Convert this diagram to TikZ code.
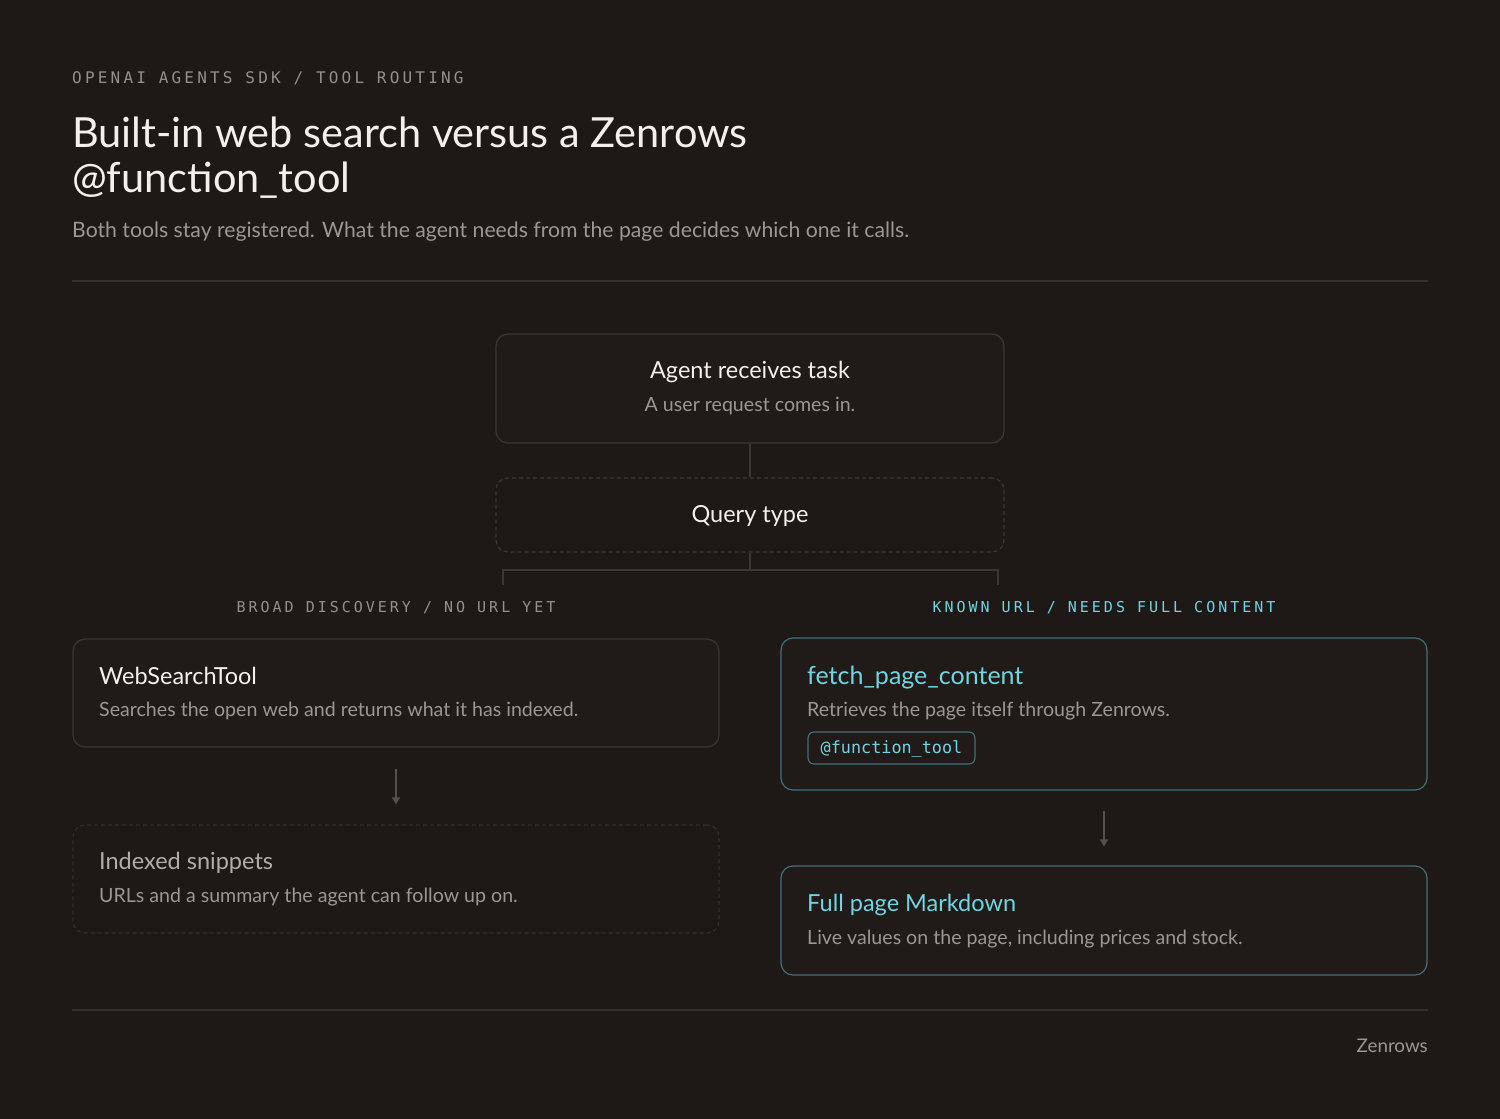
\documentclass[tikz,border=0pt]{standalone}
\usepackage{fontspec}
\setmainfont{Lato}
\newfontfamily\monofont{DejaVu Sans Mono}[LetterSpace=20]
\newfontfamily\codefont{DejaVu Sans Mono}
\usetikzlibrary{arrows.meta}
\definecolor{bgcol}{HTML}{1E1816}
\definecolor{cardfill}{HTML}{201A18}
\definecolor{inktext}{HTML}{F4EFEC}
\definecolor{mutedtext}{HTML}{9C9793}
\definecolor{dimtext}{HTML}{B3ADA9}
\definecolor{labeltext}{HTML}{959090}
\definecolor{linecol}{HTML}{3B3634}
\definecolor{rulecol}{HTML}{33302E}
\definecolor{tealtext}{HTML}{72D4E0}
\definecolor{tealline}{HTML}{41707A}
\tikzset{
  card/.style={draw=linecol, line width=1.2pt, rounded corners=12pt, fill=cardfill},
  tealcard/.style={card, draw=tealline},
  ghost/.style={card, dashed, dash pattern=on 4pt off 3pt, fill=none},
  boxtitle/.style={inner sep=0pt, font=\fontsize{23.5}{27}\selectfont, text=inktext},
  boxsub/.style={inner sep=0pt, font=\fontsize{19.6}{23}\selectfont, text=mutedtext},
  caps/.style={inner sep=0pt, font=\monofont\fontsize{15}{17}\selectfont, text=labeltext},
  conn/.style={draw=linecol, line width=1.2pt},
  flow/.style={conn, draw=labeltext!45!bgcol, -{Triangle[width=8pt,length=7pt]}}
}
\begin{document}
\begin{tikzpicture}[x=1pt,y=-1pt]
  \fill[bgcol] (0,0) rectangle (1500,1119);
  \useasboundingbox (0,0) rectangle (1500,1119);
  % header
  \node[caps, anchor=base west, font=\monofont\fontsize{16}{18}\selectfont] (kicker) at (72,83) {OPENAI AGENTS SDK / TOOL ROUTING};
  \node[inner sep=0pt, anchor=base west, text=inktext, font=\fontsize{41.5}{45}\selectfont] (headline) at (72,147) {Built-in web search versus a Zenrows};
  \node[inner sep=0pt, anchor=base west, text=inktext, font=\fontsize{41.5}{45}\selectfont] (headline2) at (72,192) {@function\_tool};
  \node[inner sep=0pt, anchor=base west, text=mutedtext, font=\fontsize{21.2}{24}\selectfont] (lede) at (72,237) {Both tools stay registered. What the agent needs from the page decides which one it calls.};
  \draw[draw=rulecol, line width=1.2pt] (72,281) -- (1428,281);
  % entry and decision
  \node[card, minimum width=508pt, minimum height=109pt] (task) at (750,388.5) {};
  \node[boxtitle, anchor=base] (taskT) at (750,378) {Agent receives task};
  \node[boxsub, anchor=base] (taskS) at (750,411) {A user request comes in.};
  \node[ghost, minimum width=508pt, minimum height=74pt] (query) at (750,515) {};
  \node[boxtitle, anchor=base] (queryT) at (750,522) {Query type};
  \draw[conn] (task.south) -- (query.north);
  \coordinate (fork) at (750,570);
  \coordinate (brL) at (503,585);
  \coordinate (brR) at (998,585);
  \draw[conn] (query.south) -- (fork);
  \draw[conn] (brL) |- (fork) -| (brR);
  \node[caps, anchor=base] (leftlab) at (396,612) {BROAD DISCOVERY / NO URL YET};
  \node[caps, anchor=base, text=tealtext] (rightlab) at (1104,612) {KNOWN URL / NEEDS FULL CONTENT};
  % left branch
  \node[card, minimum width=646pt, minimum height=108pt] (web) at (396,693) {};
  \node[boxtitle, anchor=base west] (webT) at (99,684) {WebSearchTool};
  \node[boxsub, anchor=base west] (webS) at (99,716) {Searches the open web and returns what it has indexed.};
  \node[ghost, draw=linecol!70!bgcol, minimum width=646pt, minimum height=108pt] (snip) at (396,879) {};
  \node[boxtitle, anchor=base west, text=dimtext] (snipT) at (99,869) {Indexed snippets};
  \node[boxsub, anchor=base west] (snipS) at (99,902) {URLs and a summary the agent can follow up on.};
  \draw[flow] ([yshift=-21pt]web.south) -- ([yshift=20pt]snip.north);
  % right branch
  \node[tealcard, minimum width=646pt, minimum height=152pt] (fetch) at (1104,714) {};
  \node[boxtitle, anchor=base west, text=tealtext, font=\fontsize{25}{28}\selectfont] (fetchT) at (807,684) {fetch\_page\_content};
  \node[boxsub, anchor=base west] (fetchS) at (807,716) {Retrieves the page itself through Zenrows.};
  \node[draw=tealline, line width=1.2pt, rounded corners=6pt, fill=cardfill, minimum width=167pt, minimum height=32pt, text=tealtext, font=\codefont\fontsize{16.8}{18}\selectfont, inner sep=0pt, text depth=2pt] (tag) at (891.5,748) {@function\_tool};
  \node[tealcard, minimum width=646pt, minimum height=109pt] (markdown) at (1104,920.5) {};
  \node[boxtitle, anchor=base west, text=tealtext] (markT) at (807,911) {Full page Markdown};
  \node[boxsub, anchor=base west] (markS) at (807,944) {Live values on the page, including prices and stock.};
  \draw[flow] ([yshift=-20pt]fetch.south) -- ([yshift=19pt]markdown.north);
  % footer
  \draw[draw=rulecol, line width=1.2pt] (72,1010) -- (1428,1010);
  \node[boxsub, anchor=base east, font=\fontsize{18.8}{22}\selectfont] (brand) at (1428,1052) {Zenrows};
\end{tikzpicture}
\end{document}
